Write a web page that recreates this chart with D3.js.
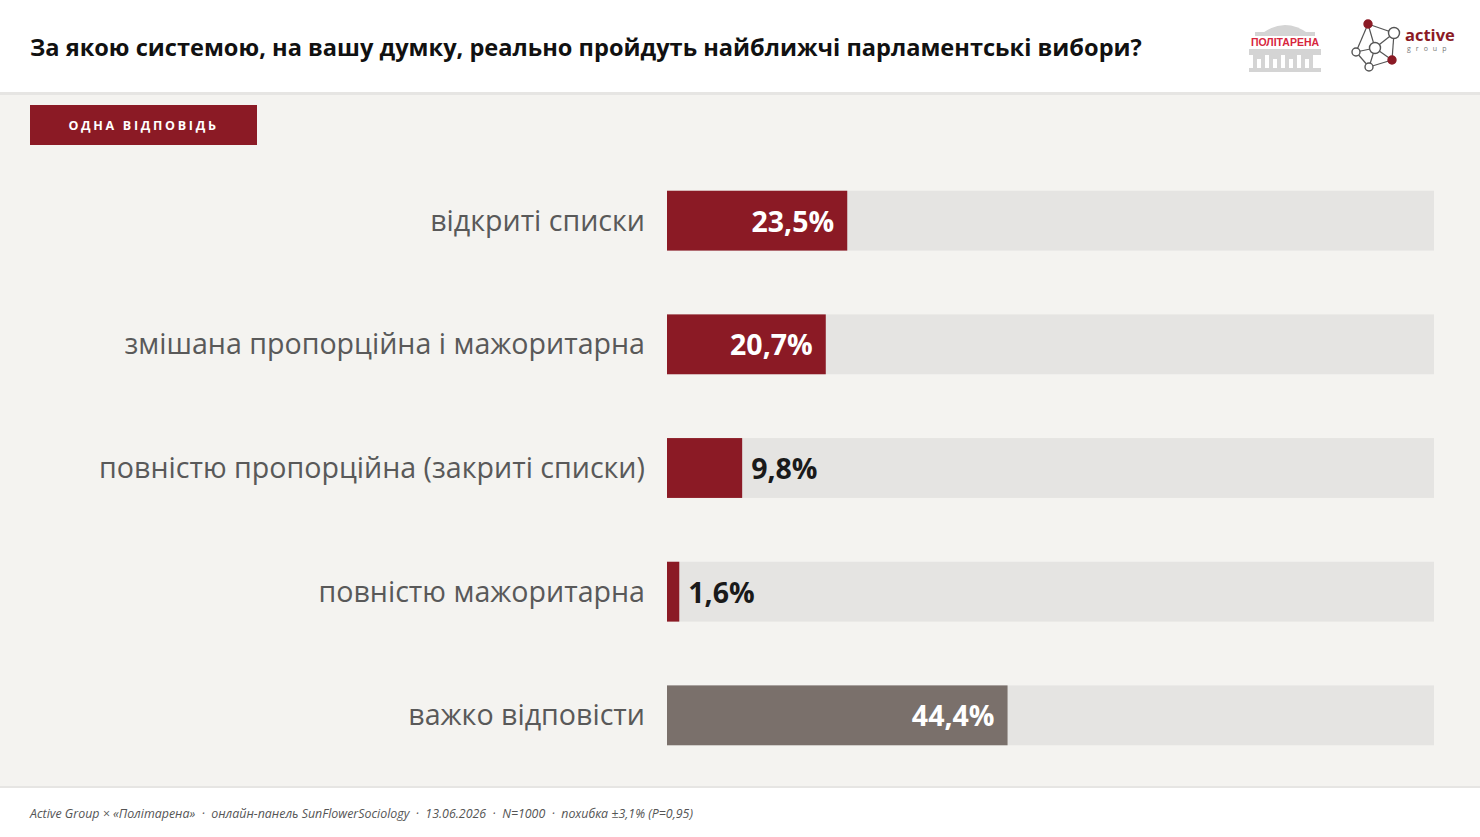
<!DOCTYPE html>
<html>
<head>
<meta charset="utf-8">
<script src="https://cdn.jsdelivr.net/npm/d3@7"></script>
<style>
  html, body { margin: 0; padding: 0; background: #f4f3f0; }
  svg { display: block; }
</style>
</head>
<body>
<div id="chart"></div>
<script>
const categories = [
  "відкриті списки",
  "змішана пропорційна і мажоритарна",
  "повністю пропорційна (закриті списки)",
  "повністю мажоритарна",
  "важко відповісти"
]
const values = [23.5, 20.7, 9.8, 1.6, 44.4]
const neutral = [false, false, false, false, true]

const title = "За якою системою, на вашу думку, реально пройдуть найближчі парламентські вибори?"
const badgeText = "ОДНА ВІДПОВІДЬ"
const footerParts = ["Active Group × «Політарена»", "онлайн-панель SunFlowerSociology", "13.06.2026", "N=1000", "похибка ±3,1% (P=0,95)"]

const width = 1480,
    height = 837

const red = "#8b1a25",
    grey = "#7a706b",
    track = "#e5e4e2"

const svg = d3.select("#chart")
    .append("svg")
    .attr("width", width)
    .attr("height", height)

svg.append("rect")
    .attr("width", width).attr("height", height)
    .attr("fill", "#f4f3f0")

// header
svg.append("rect")
    .attr("width", width).attr("height", 92)
    .attr("fill", "#ffffff")
svg.append("rect")
    .attr("y", 92).attr("width", width).attr("height", 3)
    .attr("fill", "#e6e5e3")

svg.append("text")
    .attr("x", 30)
    .attr("y", 56)
    .style("font-family", "'Open Sans', sans-serif")
    .style("font-weight", 700)
    .style("font-size", "23.6px")
    .attr("fill", "#111")
    .text(title)

// politarena logo
const pl = svg.append("g").attr("transform", "translate(1249,20)")
pl.append("path")
    .attr("d", "M12,14 Q36,-4 60,14 Z")
    .attr("fill", "#d4d4d4")
pl.append("rect").attr("x", 6).attr("y", 12).attr("width", 60).attr("height", 4).attr("fill", "#d4d4d4")
pl.append("rect").attr("x", 0).attr("y", 29).attr("width", 72).attr("height", 6).attr("fill", "#d4d4d4")
;[4, 20, 36, 52].forEach(x => {
    pl.append("rect").attr("x", x).attr("y", 35).attr("width", 12).attr("height", 15).attr("fill", "#d4d4d4")
    pl.append("rect").attr("x", x + 4).attr("y", 39).attr("width", 4).attr("height", 11).attr("fill", "#fff")
})
pl.append("rect").attr("x", 0).attr("y", 48).attr("width", 72).attr("height", 4).attr("fill", "#d4d4d4")
pl.append("text")
    .attr("x", 36).attr("y", 26)
    .attr("text-anchor", "middle")
    .style("font-family", "'Liberation Sans', Arial, sans-serif")
    .style("font-weight", 700)
    .style("font-size", "10.5px")
    .attr("fill", "#d7263d")
    .text("ПОЛІТАРЕНА")

// active group logo
const ag = svg.append("g").attr("transform", "translate(1352,20)")
const nodes = [[16, 4, "r"], [42, 13, "w"], [4, 32, "w"], [23, 28, "w"], [40, 40, "r"], [17, 47, "w"]]
const links = [[0, 1], [0, 2], [0, 3], [1, 3], [1, 4], [2, 3], [2, 5], [3, 5], [4, 5], [3, 4]]
ag.selectAll("line")
    .data(links)
    .join("line")
    .attr("x1", d => nodes[d[0]][0]).attr("y1", d => nodes[d[0]][1])
    .attr("x2", d => nodes[d[1]][0]).attr("y2", d => nodes[d[1]][1])
    .attr("stroke", "#555").attr("stroke-width", 1.2)
ag.selectAll("circle")
    .data(nodes)
    .join("circle")
    .attr("cx", d => d[0]).attr("cy", d => d[1])
    .attr("r", (d, i) => i === 1 || i === 3 ? 5.5 : 4)
    .attr("fill", d => d[2] === "r" ? "#8b1a25" : "#fff")
    .attr("stroke", d => d[2] === "r" ? "#8b1a25" : "#555")
    .attr("stroke-width", 1.4)
ag.append("text")
    .attr("x", 53).attr("y", 21)
    .style("font-family", "'Open Sans', sans-serif")
    .style("font-weight", 700)
    .style("font-size", "16.5px")
    .attr("fill", "#8b1a25")
    .text("active")
ag.append("text")
    .attr("x", 55).attr("y", 31)
    .style("font-family", "'Open Sans', sans-serif")
    .style("font-size", "7px")
    .style("letter-spacing", "5px")
    .attr("fill", "#777")
    .text("group")

// badge
svg.append("rect")
    .attr("x", 30).attr("y", 105)
    .attr("width", 227).attr("height", 40)
    .attr("fill", red)
svg.append("text")
    .attr("x", 143.5).attr("y", 130)
    .attr("text-anchor", "middle")
    .style("font-family", "'Open Sans', sans-serif")
    .style("font-weight", 700)
    .style("font-size", "12.5px")
    .style("letter-spacing", "2.7px")
    .attr("fill", "#fff")
    .text(badgeText)

// bars
const x = d3.scaleLinear()
    .domain([0, 100])
    .range([667, 1434])

const y = d3.scaleBand()
    .domain(categories)
    .range([166, 770])
    .paddingInner(0.516)
    .paddingOuter(0.2)

const rows = svg.append("g")
    .selectAll("g")
    .data(categories.map((c, i) => ({ name: c, value: values[i], neutral: neutral[i] })))
    .join("g")

rows.append("rect")
    .attr("x", x(0))
    .attr("y", d => y(d.name))
    .attr("width", x(100) - x(0))
    .attr("height", y.bandwidth())
    .attr("fill", track)

rows.append("rect")
    .attr("x", x(0))
    .attr("y", d => y(d.name))
    .attr("width", d => x(d.value) - x(0))
    .attr("height", y.bandwidth())
    .attr("fill", d => d.neutral ? grey : red)

rows.append("text")
    .attr("x", x(0) - 22)
    .attr("y", d => y(d.name) + y.bandwidth() / 2)
    .attr("dy", "0.35em")
    .attr("text-anchor", "end")
    .style("font-family", "'Open Sans', sans-serif")
    .style("font-size", "28.6px")
    .attr("fill", "#595959")
    .text(d => d.name)

const fmt = v => d3.format(".1f")(v).replace(".", ",") + "%"
const inside = d => d.value > 15

rows.append("text")
    .attr("x", d => inside(d) ? x(d.value) - 13 : x(d.value) + 9)
    .attr("y", d => y(d.name) + y.bandwidth() / 2 + 1)
    .attr("dy", "0.35em")
    .attr("text-anchor", d => inside(d) ? "end" : "start")
    .style("font-family", "'Open Sans', sans-serif")
    .style("font-weight", 700)
    .style("font-size", "28.5px")
    .attr("fill", d => inside(d) ? "#fff" : "#1a1a1a")
    .text(d => fmt(d.value))

// footer
svg.append("rect")
    .attr("y", 787).attr("width", width).attr("height", height - 787)
    .attr("fill", "#ffffff")
svg.append("rect")
    .attr("y", 786).attr("width", width).attr("height", 2)
    .attr("fill", "#e6e5e3")
svg.append("text")
    .attr("x", 30).attr("y", 818)
    .attr("xml:space", "preserve")
    .style("white-space", "pre")
    .style("font-family", "'Open Sans', sans-serif")
    .style("font-style", "italic")
    .style("font-size", "12.4px")
    .attr("fill", "#555")
    .text(footerParts.join("  ·  "))
</script>
</body>
</html>
